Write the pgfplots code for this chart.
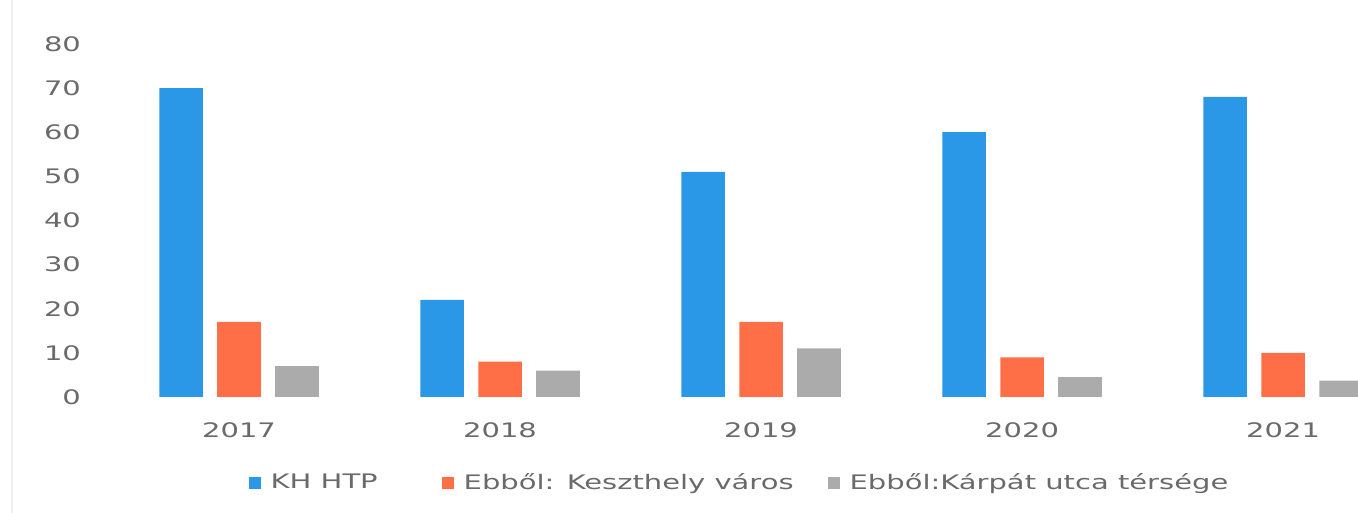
\documentclass[border=0pt]{standalone}
\usepackage{pgfplots}
\pgfplotsset{compat=1.18}
\usepackage{fontspec}
\setmainfont{DejaVu Sans}[FakeStretch=1.45]
\usetikzlibrary{calc}

\definecolor{cblue}{HTML}{2A98E6}
\definecolor{corange}{HTML}{FF6F47}
\definecolor{cgray}{HTML}{ABABAB}
\definecolor{ctext}{HTML}{6A6A6A}

\begin{document}
\begin{tikzpicture}
\begin{axis}[
    name=ax,
    scale only axis,
    width=625pt, height=176.5pt,
    ybar, bar width=0.167,
    xmin=-0.502, xmax=4.287,
    ymin=0, ymax=80,
    xtick={0,1,2,3,4},
    xticklabels={2017,2018,2019,2020,2021},
    ytick={0,10,...,80},
    axis line style={draw=none},
    tick style={draw=none},
    /pgf/number format/assume math mode=true,
    tick label style={font=\fontsize{10}{12}\selectfont, text=ctext},
    yticklabel style={xshift=-10pt},
    xticklabel style={yshift=-5pt},
    legend style={at={(0.506,-0.244)}, anchor=center, draw=none,
        legend columns=3, font=\fontsize{10}{12}\selectfont, text=ctext,
        /tikz/every even column/.append style={column sep=15pt}},
    legend image code/.code={\fill[#1] (-3pt,-3pt) rectangle (3pt,3pt);},
]
\addplot[fill=cblue, draw=none, bar shift=-0.222]
    coordinates {(0,70) (1,22) (2,51) (3,60) (4,68)};
\addplot[fill=corange, draw=none, bar shift=0]
    coordinates {(0,17) (1,8) (2,17) (3,9) (4,10)};
\addplot[fill=cgray, draw=none, bar shift=0.222]
    coordinates {(0,7) (1,6) (2,11) (3,4.5) (4,3.7)};
\legend{\kern3pt KH HTP\kern15pt\relax, \kern3pt Ebből: Keszthely város, \kern3pt Ebből:Kárpát utca térsége}
\end{axis}
\draw[color=black!6, line width=1pt] ($(ax.south west)+(-48pt,-58pt)$) -- ($(ax.north west)+(-48pt,22pt)$);
\pgfresetboundingbox
\path[use as bounding box] ($(ax.south west)+(-54pt,-58pt)$) rectangle ($(ax.north east)+(0pt,22pt)$);
\end{tikzpicture}
\end{document}
